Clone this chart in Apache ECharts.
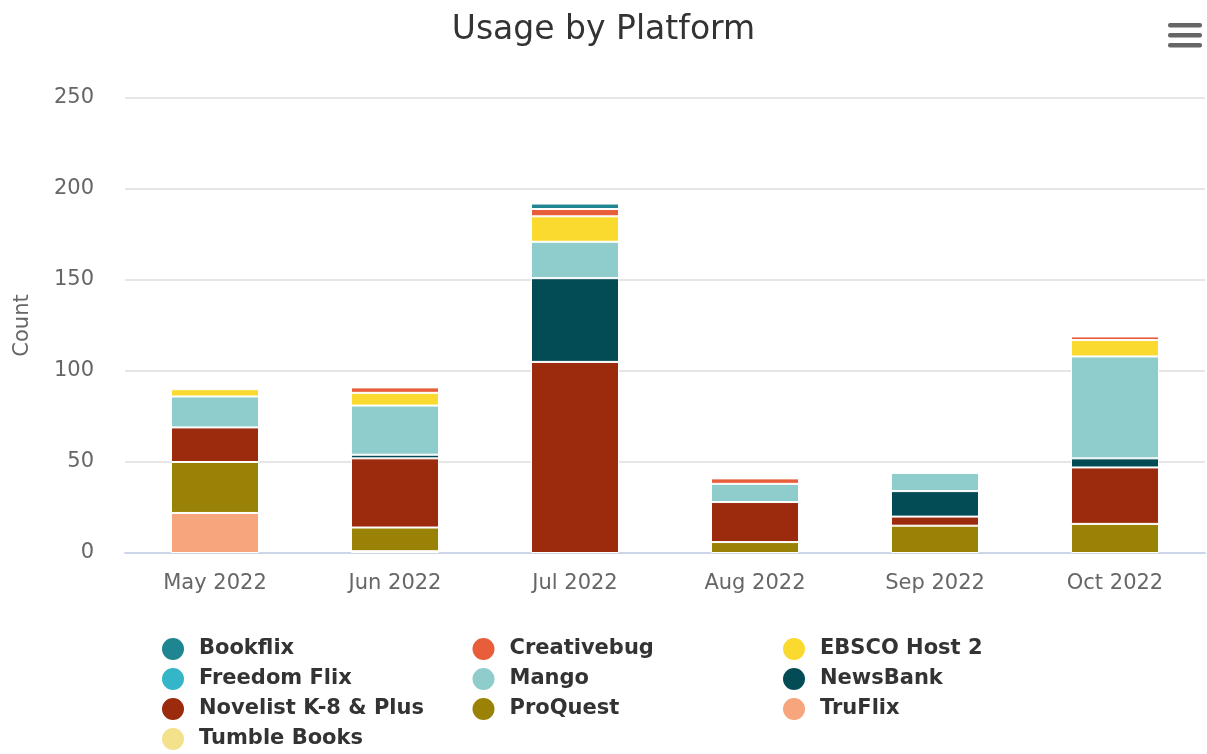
<!DOCTYPE html>
<html>
<head>
<meta charset="utf-8">
<script src="https://cdn.jsdelivr.net/npm/echarts@6/dist/echarts.min.js"></script>
<style>
html,body{margin:0;padding:0;background:#fff;}
#chart{width:1207px;height:754px;}
</style>
</head>
<body>
<div id="chart"></div>
<script>
const categories = ['May 2022', 'Jun 2022', 'Jul 2022', 'Aug 2022', 'Sep 2022', 'Oct 2022'];
const yTicks = [0, 50, 100, 150, 200, 250];

// stacking order: bottom to top
const tumbleBooks = [0, 1, 0, 0, 0, 0];
const truFlix     = [22, 0, 0, 0, 0, 0];
const proQuest    = [28, 13, 0, 6, 15, 16];
const novelist    = [19, 38, 105, 22, 5, 31];
const newsBank    = [0, 2, 46, 0, 14, 5];
const mango       = [17, 27, 20, 10, 10, 56];
const freedomFlix = [0, 0, 0, 0, 0, 0];
const ebsco       = [4, 7, 14, 0, 0, 9];
const creativebug = [0, 3, 4, 3, 0, 2];
const bookflix    = [0, 0, 3, 0, 0, 0];

const legendRows = [
  ['Bookflix', 'Creativebug', 'EBSCO Host 2'],
  ['Freedom Flix', 'Mango', 'NewsBank'],
  ['Novelist K-8 & Plus', 'ProQuest', 'TruFlix'],
  ['Tumble Books']
];

const seriesDefs = [
  {name: 'Tumble Books', data: tumbleBooks, color: '#f3e18b'},
  {name: 'TruFlix', data: truFlix, color: '#f6a57c'},
  {name: 'ProQuest', data: proQuest, color: '#998205'},
  {name: 'Novelist K-8 & Plus', data: novelist, color: '#9b2b0c'},
  {name: 'NewsBank', data: newsBank, color: '#034c55'},
  {name: 'Mango', data: mango, color: '#8ecdcb'},
  {name: 'Freedom Flix', data: freedomFlix, color: '#35b6c8'},
  {name: 'EBSCO Host 2', data: ebsco, color: '#fbda30'},
  {name: 'Creativebug', data: creativebug, color: '#e85e3a'},
  {name: 'Bookflix', data: bookflix, color: '#1f8590'}
];

const FONT = 'DejaVu Sans';
const chart = echarts.init(document.getElementById('chart'), null, {renderer: 'canvas'});

const legends = [];
legendRows.forEach((row, i) => {
  row.forEach((name, j) => {
    legends.push({
      orient: 'horizontal',
      left: 160 + j * 310.5,
      top: 636 + i * 30,
      itemWidth: 24,
      itemHeight: 24,
      icon: 'circle',
      padding: 0,
      data: [name],
      textStyle: {
        fontFamily: FONT, fontSize: 21, fontWeight: 'bold', color: '#333',
        padding: [0, 0, 0, 9]
      }
    });
  });
});

chart.setOption({
  animation: false,
  color: seriesDefs.map(s => s.color),
  title: {
    text: 'Usage by Platform',
    left: 'center',
    top: 9,
    textStyle: {fontFamily: FONT, fontSize: 33, fontWeight: 'normal', color: '#333'}
  },
  legend: legends,
  grid: {left: 125, right: 2, top: 98, bottom: 201, containLabel: false},
  xAxis: {
    type: 'category',
    data: categories,
    axisLine: {lineStyle: {color: '#ccd6eb', width: 2}},
    axisTick: {show: false},
    axisLabel: {fontFamily: FONT, fontSize: 21, color: '#666', margin: 20}
  },
  yAxis: {
    type: 'value',
    min: yTicks[0],
    max: yTicks[yTicks.length - 1],
    interval: 50,
    name: 'Count',
    nameLocation: 'middle',
    nameGap: 92,
    nameTextStyle: {fontFamily: FONT, fontSize: 21, color: '#666'},
    axisLine: {show: false},
    axisTick: {show: false},
    splitLine: {lineStyle: {color: '#e6e6e6', width: 2}},
    axisLabel: {fontFamily: FONT, fontSize: 21, color: '#666', margin: 31, padding: [4, 0, 0, 0]}
  },
  series: seriesDefs.map(s => ({
    name: s.name,
    type: 'bar',
    stack: 'total',
    barWidth: 88,
    data: s.data.map(v => v === 0 ? '-' : v),
    itemStyle: {color: s.color, borderColor: '#fff', borderWidth: 1}
  })),
  graphic: [
    {type: 'rect', shape: {x: 1168, y: 23, width: 34, height: 4.5, r: 2}, style: {fill: '#666'}},
    {type: 'rect', shape: {x: 1168, y: 33, width: 34, height: 4.5, r: 2}, style: {fill: '#666'}},
    {type: 'rect', shape: {x: 1168, y: 43, width: 34, height: 4.5, r: 2}, style: {fill: '#666'}}
  ]
});
</script>
</body>
</html>
